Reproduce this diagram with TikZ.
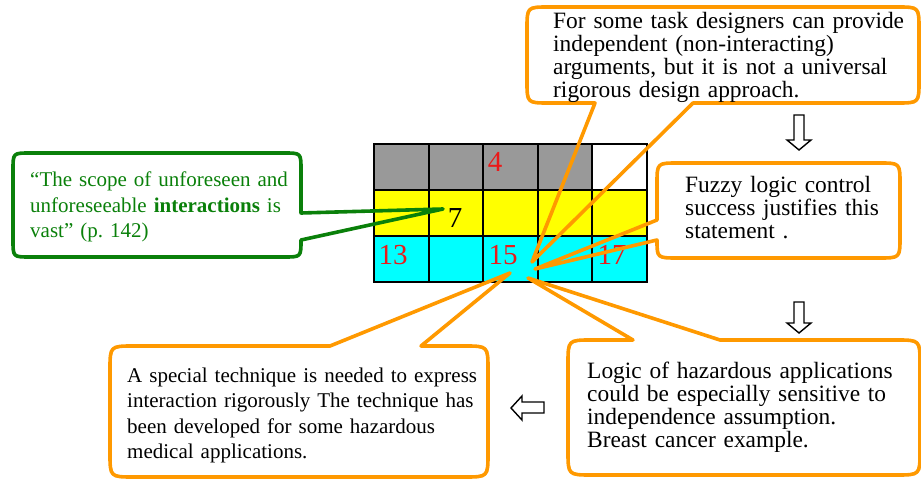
\documentclass[tikz,border=0pt]{standalone}
\usepackage{fontspec}
\setmainfont{Liberation Serif}
\definecolor{callorange}{RGB}{255,153,0}
\definecolor{callgreen}{RGB}{10,128,10}
\definecolor{cellgray}{RGB}{153,153,153}
\definecolor{cellyellow}{RGB}{255,255,0}
\definecolor{cellcyan}{RGB}{0,255,255}
\definecolor{numred}{RGB}{235,25,25}
\begin{document}
\frenchspacing
\begin{tikzpicture}[x=1pt,y=-1pt,
  cell/.style={draw=black, line width=2pt, minimum width=54.6pt, minimum height=46pt, inner sep=0pt},
  num/.style={anchor=base, inner sep=0pt, font=\fontsize{29}{32}\selectfont},
  callout/.style={line width=3.6pt, line join=round},
  bigtext/.style={anchor=base west, inner sep=0pt, text width=380pt, align=left, font=\fontsize{23.4}{23}\selectfont},
  smalltext/.style={anchor=base west, inner sep=0pt, text width=380pt, align=left, font=\fontsize{21}{25.5}\selectfont},
  blockarrow/.style={draw=black, fill=white, line width=1.4pt, line join=miter}]
\useasboundingbox (0,0) rectangle (921,481);

% table of cells: row/column/fill
\foreach \r/\c/\f in {1/1/cellgray,1/2/cellgray,1/3/cellgray,1/4/cellgray,1/5/white,
                      2/1/cellyellow,2/2/cellyellow,2/3/cellyellow,2/4/cellyellow,2/5/cellyellow,
                      3/1/cellcyan,3/2/cellcyan,3/3/cellcyan,3/4/cellcyan,3/5/cellcyan}
  \node[cell, fill=\f] (c\r\c) at ({374+54.6*(\c-0.5)},{144+46*(\r-0.5)}) {};

% numbers in the cells
\node[num, text=numred] (n4) at (495,172) {4};
\node[num, text=black] (n7) at (455,228) {7};
\node[num, text=numred] (n13) at (393,264) {13};
\node[num, text=numred] (n15) at (503,264) {15};
\node[num, text=numred] (n17) at (612,264) {17};

% pointer tips
\coordinate (tipgreen) at (443,209);
\coordinate (tiptop) at (532,262);
\coordinate (tipfuzzy) at (535,269);
\coordinate (tipleft) at (510,273);
\coordinate (tipright) at (528,278);

% green quotation callout
\draw[callout, draw=callgreen]
  (30,153) -- (284,153) .. controls (301,153) .. (301,170) -- (301,213)
  -- (tipgreen) -- (301,240) .. controls (301,257) .. (284,257)
  -- (30,257) .. controls (13,257) .. (13,240) -- (13,170)
  .. controls (13,153) .. (30,153) -- cycle;
\node[smalltext, text=callgreen] (quote) at (30,187)
  {“The scope of unforeseen and\\unforeseeable \textbf{interactions} is\\vast” (p. 142)};

% top callout
\draw[callout, draw=callorange]
  (549,7) -- (897,7) .. controls (919,7) .. (919,29) -- (919,81)
  .. controls (919,103) .. (897,103) -- (693,103) -- (tiptop) -- (595,103)
  -- (549,103) .. controls (527,103) .. (527,81) -- (527,29)
  .. controls (527,7) .. (549,7) -- cycle;
\node[bigtext] (design) at (553,29)
  {For some task designers can provide\\independent (non-interacting)\\arguments, but it is not a universal\\rigorous design approach.};

% fuzzy logic callout
\draw[callout, draw=callorange]
  (678,163) -- (879,163) .. controls (900,163) .. (900,184) -- (900,237)
  .. controls (900,258) .. (879,258) -- (678,258) .. controls (657,258) .. (657,240)
  -- (tipfuzzy) -- (657,220) -- (657,184) .. controls (657,163) .. (678,163) -- cycle;
\node[bigtext] (fuzzy) at (685,193)
  {Fuzzy logic control\\success justifies this\\statement .};

% hazardous applications callout
\draw[callout, draw=callorange]
  (592,340) -- (633,340) -- (tipright) -- (720,340) -- (896,340)
  .. controls (920,340) .. (920,364) -- (920,451) .. controls (920,475) .. (896,475)
  -- (592,475) .. controls (568,475) .. (568,451) -- (568,364)
  .. controls (568,340) .. (592,340) -- cycle;
\node[bigtext] (hazard) at (587,378)
  {Logic of hazardous applications\\could be especially sensitive to\\independence assumption.\\Breast cancer example.};

% special technique callout
\draw[callout, draw=callorange]
  (134,346) -- (330,346) -- (tipleft) -- (421,346) -- (464,346)
  .. controls (488,346) .. (488,370) -- (488,453) .. controls (488,477) .. (464,477)
  -- (134,477) .. controls (110,477) .. (110,453) -- (110,370)
  .. controls (110,346) .. (134,346) -- cycle;
\node[smalltext] (technique) at (127,382)
  {A special technique is needed to express\\interaction rigorously The technique has\\been developed for some hazardous\\medical applications.};

% block arrows
\draw[blockarrow] (794,115) -- (804,115) -- (804,140) -- (811,140) -- (799,150)
  -- (787,140) -- (794,140) -- cycle;
\draw[blockarrow] (794,302) -- (804,302) -- (804,323) -- (811,323) -- (799,333)
  -- (787,323) -- (794,323) -- cycle;
\draw[blockarrow] (544,402) -- (544,413) -- (522,413) -- (522,420) -- (511,408)
  -- (522,396) -- (522,402) -- cycle;
\end{tikzpicture}
\end{document}
